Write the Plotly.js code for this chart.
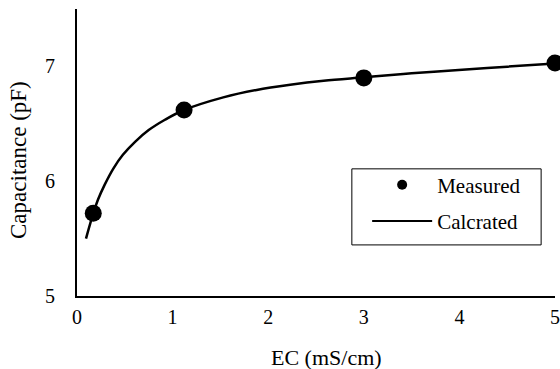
<!DOCTYPE html>
<html>
<head>
<meta charset="utf-8">
<script src="https://cdn.plot.ly/plotly-3.0.1.min.js"></script>
<style>html,body{margin:0;padding:0;background:#fff;}#chart{width:560px;height:369px;}</style>
</head>
<body>
<div id="chart"></div>
<script>
// Measured data
var measuredEC = [0.17, 1.12, 3.0, 5.0];
var measuredCap = [5.72, 6.62, 6.90, 7.03];
// Calculated curve
var calcEC = [0.094, 0.17, 0.22, 0.29, 0.38, 0.48, 0.61, 0.75, 0.92, 1.12, 1.53, 1.88, 2.23, 2.58, 3.0, 3.5, 4.03, 4.5, 5.0];
var calcCap = [5.50, 5.72, 5.84, 5.97, 6.11, 6.23, 6.345, 6.445, 6.535, 6.62, 6.73, 6.795, 6.84, 6.875, 6.905, 6.94, 6.97, 6.998, 7.025];
var xTicks = [0, 1, 2, 3, 4, 5];
var yTicks = [5, 6, 7];
var xTitle = 'EC (mS/cm)';
var yTitle = 'Capacitance (pF)';

var font = 'Liberation Serif, Times New Roman, serif';

var traces = [
  {x: calcEC, y: calcCap, mode: 'lines', name: 'Calcrated', showlegend: false,
   line: {color: '#000', width: 2.5, shape: 'spline', smoothing: 1}, hoverinfo: 'skip'},
  {x: measuredEC, y: measuredCap, mode: 'markers', name: 'Measured', showlegend: false,
   marker: {color: '#000', size: 17}, cliponaxis: false},
  {x: [null], y: [null], mode: 'markers', name: 'Measured', legendgroup: 'a',
   marker: {color: '#000', size: 10}},
  {x: [null], y: [null], mode: 'lines', name: 'Calcrated', legendgroup: 'b',
   line: {color: '#000', width: 2}}
];

var layout = {
  width: 560, height: 369,
  margin: {l: 77, r: 5, t: 9, b: 73},
  paper_bgcolor: '#fff', plot_bgcolor: '#fff',
  font: {family: font, color: '#000', size: 20},
  xaxis: {
    range: [0, 5], tickvals: xTicks, ticks: '', showgrid: false, zeroline: false,
    showline: true, linecolor: '#000', linewidth: 2, ticklabelstandoff: 2,
    tickfont: {family: font, size: 20, color: '#000'}
  },
  yaxis: {
    range: [5, 7.5], tickvals: yTicks, ticks: '', showgrid: false, zeroline: false,
    showline: true, linecolor: '#000', linewidth: 2, ticklabelstandoff: 16,
    tickfont: {family: font, size: 20, color: '#000'}
  },
  annotations: [
    {text: xTitle, xref: 'paper', yref: 'paper', x: 0.521, y: -0.216,
     xanchor: 'center', yanchor: 'middle', showarrow: false,
     font: {family: font, size: 22, color: '#000'}},
    {text: yTitle, xref: 'paper', yref: 'paper', x: -0.1213, y: 0.474, textangle: -90,
     xanchor: 'center', yanchor: 'middle', showarrow: false,
     font: {family: font, size: 23, color: '#000'}}
  ],
  showlegend: true,
  legend: {
    x: 0.607, y: 0.458, xanchor: 'left', yanchor: 'top',
    bgcolor: 'rgba(0,0,0,0)', borderwidth: 0,
    font: {family: font, size: 21, color: '#000'},
    itemwidth: 60, tracegroupgap: 6
  },
  shapes: [
    {type: 'rect', xref: 'paper', yref: 'paper', x0: 0.575, x1: 0.971, y0: 0.178, y1: 0.443,
     line: {color: '#000', width: 1}, fillcolor: 'rgba(0,0,0,0)'}
  ]
};

Plotly.newPlot('chart', traces, layout, {displayModeBar: false, staticPlot: true});
</script>
</body>
</html>
